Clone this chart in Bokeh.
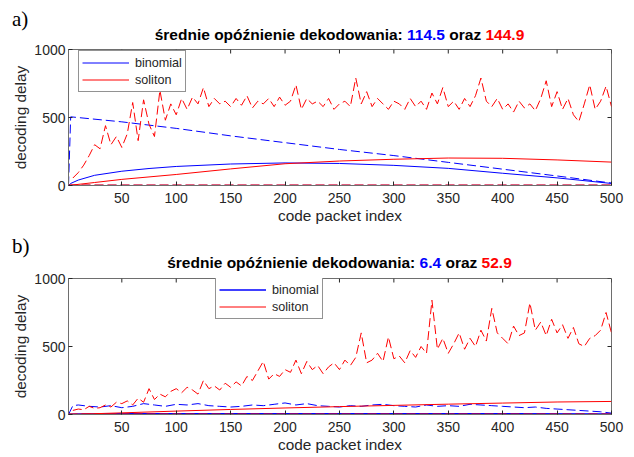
from bokeh.plotting import figure
from bokeh.models import Range1d, FixedTicker, Legend, LegendItem, Div
from bokeh.layouts import column
from bokeh.embed import file_html
from bokeh.resources import INLINE

FONT = "Liberation Sans"
BLUE = "#0000ff"
RED = "#ff0000"
AXC = "#262626"
BOXC = "#6e6e6e"

# ---------------- data: panel a ----------------
x_ticks = [50, 100, 150, 200, 250, 300, 350, 400, 450, 500]
y_ticks = [0, 500, 1000]

a_binom_mean_x = [1, 3, 10, 25, 50, 75, 100, 150, 200, 250, 300, 350, 400, 450, 500]
a_binom_mean = [0, 15, 40, 75, 105, 125, 140, 158, 166, 162, 148, 126, 90, 56, 15]

a_binom_max_x = [1, 3, 50, 100, 150, 200, 250, 300, 350, 400, 450, 500]
a_binom_max = [0, 505, 468, 420, 365, 315, 265, 220, 170, 120, 70, 18]

a_sol_mean_x = [1, 25, 50, 100, 150, 200, 250, 300, 350, 400, 450, 500]
a_sol_mean = [0, 22, 45, 81, 122, 160, 180, 193, 202, 200, 188, 172]

a_sol_max_x = list(range(5, 501, 5))
a_sol_max = [55, 95, 150, 220, 300, 270, 440, 300, 360, 280, 380, 610, 330, 630, 450, 360, 700, 480, 600, 520,
             640, 560, 650, 600, 720, 580, 640, 600, 620, 580, 640, 590, 660, 570, 620, 600, 640, 580, 650, 590,
             620, 740, 560, 640, 600, 620, 580, 640, 560, 600, 620, 580, 790, 600, 690, 580, 640, 600, 560, 620,
             600, 560, 640, 580, 620, 560, 680, 600, 720, 580, 620, 560, 640, 580, 660, 790, 620, 580, 640, 560,
             600, 540, 620, 570, 600, 550, 640, 770, 580, 690, 560, 640, 520, 470, 600, 740, 560, 620, 730, 580]

min_x = [1, 500]
a_binom_min = [0, 0]
a_sol_min = [0, 0]

# ---------------- data: panel b ----------------
b_binom_mean_x = [1, 10, 50, 100, 200, 300, 400, 500]
b_binom_mean = [0, 4, 5, 5, 5, 5, 5, 4]

b_binom_max_x = [1, 5] + list(range(10, 501, 10))
b_binom_max = [0, 65,
               70, 60, 55, 65, 50, 60, 80, 70, 60, 75, 70, 80, 65, 60, 55, 60, 70, 65, 75, 85,
               70, 80, 65, 60, 55, 65, 60, 70, 75, 65, 60, 55, 70, 60, 65, 60, 75, 70, 65, 60,
               55, 50, 55, 45, 40, 35, 30, 25, 20, 10]

b_sol_mean_x = [1, 50, 100, 150, 200, 250, 300, 350, 400, 450, 500]
b_sol_mean = [0, 12, 25, 37, 48, 58, 67, 76, 84, 92, 96]

b_sol_max_x = list(range(5, 501, 5))
b_sol_max = [30, 40, 35, 60, 45, 50, 70, 55, 90, 80, 100, 70, 120, 90, 190, 110, 150, 130, 170, 190,
             160, 200, 180, 150, 250, 190, 210, 180, 230, 200, 240, 210, 280, 250, 320, 390, 260, 300, 280, 330,
             310, 400, 300, 390, 330, 360, 300, 350, 380, 330, 400, 360, 420, 600, 380, 400, 450, 390, 570, 410,
             430, 380, 470, 420, 500, 450, 840, 480, 560, 450, 520, 600, 480, 560, 500, 620, 540, 780, 600, 560,
             520, 650, 580, 600, 820, 620, 680, 580, 700, 600, 660, 560, 640, 520, 500, 560, 580, 620, 750, 600]

b_binom_min = [0, 0]
b_sol_min = [0, 0]

title_a = ["średnie opóźnienie dekodowania:", "114.5", "oraz", "144.9"]
title_b = ["średnie opóźnienie dekodowania:", "6.4", "oraz", "52.9"]

W = 626
LB = 68
FW = 543
FH = 136
DASH = "9 4"


def make_header(h, parts, letter, letter_top, title_top):
    html = (
        f'<div style="position:relative;width:{W}px;height:{h}px;overflow:visible;">'
        f'<span style="position:absolute;left:12px;top:{letter_top}px;font-family:\'Liberation Serif\';'
        f'font-size:21px;line-height:24px;color:#000;">{letter}</span>'
        f'<div style="position:absolute;left:{LB}px;width:{FW}px;top:{title_top}px;text-align:center;'
        f'font-family:\'{FONT}\';font-size:15.5px;font-weight:bold;line-height:18px;white-space:nowrap;color:#000;">'
        f'{parts[0]} <span style="color:{BLUE}">{parts[1]}</span> {parts[2]} '
        f'<span style="color:{RED}">{parts[3]}</span></div></div>'
    )
    return Div(text=html, width=W, height=h, margin=0)


def make_fig(top, bottom):
    p = figure(frame_width=FW, frame_height=FH, x_range=Range1d(1, 500), y_range=Range1d(0, 1000),
               output_backend="svg", toolbar_location=None,
               min_border_left=LB, min_border_right=W - LB - FW, min_border_top=top, min_border_bottom=bottom)
    p.xgrid.visible = False
    p.ygrid.visible = False
    p.outline_line_color = BOXC
    p.background_fill_color = "white"
    p.border_fill_color = "white"
    p.xaxis.ticker = FixedTicker(ticks=x_ticks)
    p.yaxis.ticker = FixedTicker(ticks=y_ticks)
    for ax in (p.xaxis[0], p.yaxis[0]):
        ax.major_tick_in = 4
        ax.major_tick_out = 0
        ax.minor_tick_line_color = None
        ax.axis_line_color = BOXC
        ax.major_tick_line_color = AXC
        ax.major_label_text_font = FONT
        ax.major_label_text_font_size = "14px"
        ax.major_label_text_color = AXC
        ax.axis_label_text_font = FONT
        ax.axis_label_text_font_size = "15.4px"
        ax.axis_label_text_font_style = "normal"
        ax.axis_label_text_color = AXC
    p.xaxis.major_label_standoff = 7
    p.xaxis.axis_label_standoff = 1
    p.yaxis.major_label_standoff = 3
    p.yaxis.axis_label_standoff = 2
    p.xaxis.axis_label = "code packet index"
    p.yaxis.axis_label = "decoding delay"
    # inward ticks on the top and right edges of the box, built from the tick lists
    tick_y = 4 * 1000.0 / FH
    tick_x = 4 * 499.0 / FW
    p.segment(x0=x_ticks, y0=[1000] * len(x_ticks), x1=x_ticks, y1=[1000 - tick_y] * len(x_ticks),
              line_color=AXC, line_width=1)
    p.segment(x0=[500] * len(y_ticks), y0=y_ticks, x1=[500 - tick_x] * len(y_ticks), y1=y_ticks,
              line_color=AXC, line_width=1)
    return p


def add_legend(p, rb, rs, loc):
    leg = Legend(items=[LegendItem(label="binomial", renderers=[rb]),
                        LegendItem(label="soliton", renderers=[rs])],
                 location=loc, padding=3, spacing=0, margin=0,
                 label_height=17, glyph_height=17, glyph_width=47, label_standoff=6,
                 label_text_font=FONT, label_text_font_size="12.6px", label_text_color=AXC,
                 border_line_color=AXC, border_line_width=1, background_fill_alpha=1)
    p.add_layout(leg, "center")


# ---------------- panel a ----------------
ha = make_header(43, title_a, "a)", 7, 26)
pa = make_fig(6, 41)
pa.line(min_x, a_binom_min, color=BLUE, line_width=1.5, line_dash=DASH)
pa.line(a_binom_max_x, a_binom_max, color=BLUE, line_width=1, line_dash=DASH)
ra_b = pa.line(a_binom_mean_x, a_binom_mean, color=BLUE, line_width=1)
pa.line(a_sol_max_x, a_sol_max, color=RED, line_width=1, line_dash=DASH)
ra_s = pa.line(a_sol_mean_x, a_sol_mean, color=RED, line_width=1)
pa.line(min_x, a_sol_min, color=RED, line_width=2, line_dash=DASH)
add_legend(pa, ra_b, ra_s, (10, 93))

# ---------------- panel b ----------------
hb = make_header(46, title_b, "b)", 8, 28)
pb = make_fig(6, 40)
pb.line(min_x, b_binom_min, color=BLUE, line_width=1.5, line_dash=DASH)
pb.line(b_binom_max_x, b_binom_max, color=BLUE, line_width=1, line_dash=DASH)
rb_b = pb.line(b_binom_mean_x, b_binom_mean, color=BLUE, line_width=1.5)
pb.line(b_sol_max_x, b_sol_max, color=RED, line_width=1, line_dash=DASH)
rb_s = pb.line(b_sol_mean_x, b_sol_mean, color=RED, line_width=1)
pb.line(min_x, b_sol_min, color=RED, line_width=2, line_dash=DASH)
add_legend(pb, rb_b, rb_s, (147, 95))

layout = column(ha, pa, hb, pb, spacing=0)
open("out.html", "w").write(file_html(layout, INLINE))
